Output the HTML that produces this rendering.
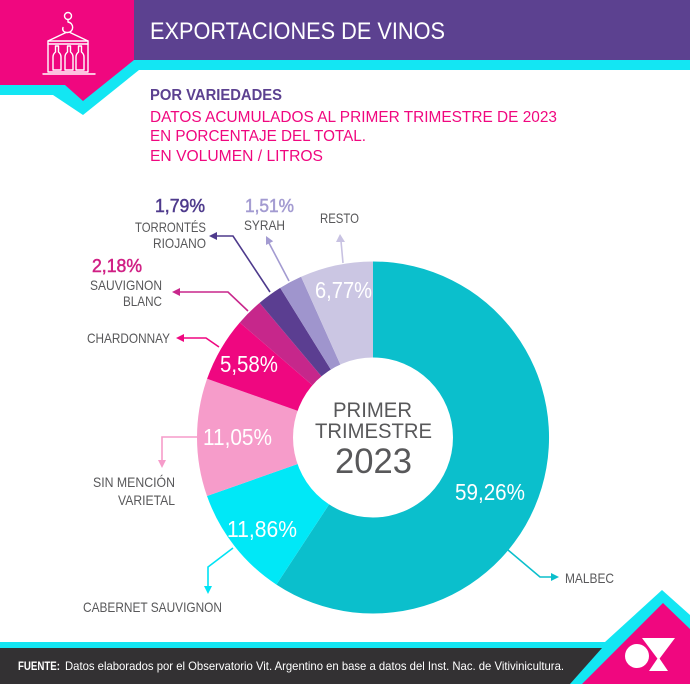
<!DOCTYPE html>
<html><head><meta charset="utf-8"><style>
html,body{margin:0;padding:0;background:#fff;}
svg{display:block;}
text{font-family:"Liberation Sans",sans-serif;}
</style></head><body>
<svg width="690" height="684" viewBox="0 0 690 684" xmlns="http://www.w3.org/2000/svg">
<rect width="690" height="684" fill="#ffffff"/>
<!-- header -->
<polygon points="0,0 690,0 690,70 139,70 83,115 53,95 0,95" fill="#13e6f3"/>
<rect x="133" y="0" width="557" height="60" fill="#5c4190"/>
<polygon points="0,0 134,0 134,60 83,101 65,85 0,85" fill="#f0077f"/>
<!-- icon -->
<g fill="none" stroke="#ffffff" stroke-width="1.4" stroke-linejoin="round" stroke-linecap="round">
<circle cx="68" cy="16" r="3.5"/>
<path d="M68,19.5 L68,22 C74,23 74.5,32 67.5,32.5 C63.5,32.5 62,30 63,27.5"/>
<path d="M66,32.5 L48,41 M70,32.5 L88,41"/>
<rect x="48" y="41" width="40" height="31"/>
<line x1="48" y1="44" x2="88" y2="44"/>
<line x1="43" y1="74" x2="95" y2="74"/>
<path d="M55.5,46 L55.5,52 Q53,54 53,57 L53,70 L61,70 L61,57 Q61,54 58.5,52 L58.5,46 Z"/>
<path d="M67.5,46 L67.5,52 Q65,54 65,57 L65,70 L73,70 L73,57 Q73,54 70.5,52 L70.5,46 Z"/>
<path d="M78.5,46 L78.5,52 Q76,54 76,57 L76,70 L84,70 L84,57 Q84,54 81.5,52 L81.5,46 Z"/>
</g>
<text x="150" y="39" font-size="24" fill="#ffffff" textLength="295" lengthAdjust="spacingAndGlyphs">EXPORTACIONES DE VINOS</text>
<text x="150" y="100" font-size="15.5" font-weight="bold" fill="#5c4190" textLength="132" lengthAdjust="spacingAndGlyphs">POR VARIEDADES</text>
<text x="150" y="122" font-size="15.5" fill="#f0077f" textLength="407" lengthAdjust="spacingAndGlyphs">DATOS ACUMULADOS AL PRIMER TRIMESTRE DE 2023</text>
<text x="150" y="141" font-size="15.5" fill="#f0077f" textLength="216" lengthAdjust="spacingAndGlyphs">EN PORCENTAJE DEL TOTAL.</text>
<text x="150" y="161" font-size="15.5" fill="#f0077f" textLength="173" lengthAdjust="spacingAndGlyphs">EN VOLUMEN / LITROS</text>

<!-- pie -->
<path d="M373,437.5 L373,261.5 A176,176 0 1,1 276.4,584.6 Z" fill="#0bbfcc"/>
<path d="M373,437.5 L276.4,584.6 A176,176 0 0,1 207.0,496.0 Z" fill="#00e8f7"/>
<path d="M373,437.5 L207.0,496.0 A176,176 0 0,1 207.1,378.8 Z" fill="#f69cca"/>
<path d="M373,437.5 L207.1,378.8 A176,176 0 0,1 239.8,322.5 Z" fill="#ef0780"/>
<path d="M373,437.5 L239.8,322.5 A176,176 0 0,1 259.6,302.9 Z" fill="#c6278b"/>
<path d="M373,437.5 L259.6,302.9 A176,176 0 0,1 280.2,287.9 Z" fill="#5b3e91"/>
<path d="M373,437.5 L280.2,287.9 A176,176 0 0,1 301.1,276.8 Z" fill="#9f95cd"/>
<path d="M373,437.5 L301.1,276.8 A176,176 0 0,1 373,261.5 Z" fill="#cbc6e3"/>
<circle cx="373" cy="437.5" r="80" fill="#ffffff"/>

<text x="333" y="417" font-size="21" fill="#58585a" textLength="79" lengthAdjust="spacingAndGlyphs">PRIMER</text>
<text x="315" y="438" font-size="21" fill="#58585a" textLength="117" lengthAdjust="spacingAndGlyphs">TRIMESTRE</text>
<text x="335" y="473" font-size="35" fill="#58585a" textLength="77" lengthAdjust="spacingAndGlyphs">2023</text>

<g fill="#ffffff" font-size="23">
<text x="455" y="500" textLength="70" lengthAdjust="spacingAndGlyphs">59,26%</text>
<text x="227" y="537" textLength="70" lengthAdjust="spacingAndGlyphs">11,86%</text>
<text x="203" y="445" textLength="69" lengthAdjust="spacingAndGlyphs">11,05%</text>
<text x="220" y="372" textLength="58" lengthAdjust="spacingAndGlyphs">5,58%</text>
<text x="315" y="298" textLength="57" lengthAdjust="spacingAndGlyphs">6,77%</text>
</g>

<!-- leaders -->
<g fill="none" stroke-width="1.6">
<polyline points="270,292 233,236 215,236" stroke="#4e3a8c"/>
<polyline points="289,281 269,243" stroke="#a39bd1"/>
<polyline points="343,263 341,241" stroke="#c8c2e2"/>
<polyline points="248,311 228,292 179,292" stroke="#c8278c"/>
<polyline points="219,347 206,338 183,338" stroke="#ef0780"/>
<polyline points="197,437 162,437 162,461" stroke="#f69cca"/>
<polyline points="233,548 208,567 208,587" stroke="#00e3f4"/>
<polyline points="508,550 540,577 552,577" stroke="#0bbfcc"/>
</g>
<polygon points="209,236 217,232 217,240" fill="#4e3a8c"/>
<polygon points="266,236 273.2,241.3 266,245" fill="#a39bd1"/>
<polygon points="340,234 336,242 345,242" fill="#c8c2e2"/>
<polygon points="172,292 180,288 180,296" fill="#c8278c"/>
<polygon points="176,338 184,334 184,342" fill="#ef0780"/>
<polygon points="162,468 158,460 166,460" fill="#f69cca"/>
<polygon points="208,594 204,586 212,586" fill="#00e3f4"/>
<polygon points="559,577 551,573 551,581" fill="#0bbfcc"/>

<!-- outer labels -->
<g font-size="18" stroke-width="0.5">
<text x="155" y="212" fill="#4e3a8c" stroke="#4e3a8c" textLength="50" lengthAdjust="spacingAndGlyphs">1,79%</text>
<text x="245" y="212" fill="#a39bd1" stroke="#a39bd1" textLength="49" lengthAdjust="spacingAndGlyphs">1,51%</text>
<text x="92" y="272" fill="#d01f84" stroke="#d01f84" textLength="50" lengthAdjust="spacingAndGlyphs">2,18%</text>
</g>
<g font-size="14" fill="#58585a">
<text x="135" y="232" textLength="71" lengthAdjust="spacingAndGlyphs">TORRONTÉS</text>
<text x="153" y="248" textLength="53" lengthAdjust="spacingAndGlyphs">RIOJANO</text>
<text x="244" y="230" textLength="41" lengthAdjust="spacingAndGlyphs">SYRAH</text>
<text x="320" y="223" textLength="39" lengthAdjust="spacingAndGlyphs">RESTO</text>
<text x="90" y="290" textLength="72" lengthAdjust="spacingAndGlyphs">SAUVIGNON</text>
<text x="123" y="306" textLength="39" lengthAdjust="spacingAndGlyphs">BLANC</text>
<text x="87" y="343" textLength="83" lengthAdjust="spacingAndGlyphs">CHARDONNAY</text>
<text x="93" y="487" textLength="82" lengthAdjust="spacingAndGlyphs">SIN MENCIÓN</text>
<text x="118" y="505" textLength="57" lengthAdjust="spacingAndGlyphs">VARIETAL</text>
<text x="83" y="612" textLength="139" lengthAdjust="spacingAndGlyphs">CABERNET SAUVIGNON</text>
<text x="565" y="583" textLength="49" lengthAdjust="spacingAndGlyphs">MALBEC</text>
</g>

<!-- footer -->
<polygon points="0,642 605,642 662,590 690,615 690,684 0,684" fill="#13e6f3"/>
<polygon points="0,648 602,648 570,684 0,684" fill="#333133"/>
<polygon points="663,603 690,629 690,684 582,684" fill="#f0077f"/>
<circle cx="637" cy="656" r="12" fill="#ffffff"/>
<polygon points="642,638 675,638 658.5,660" fill="#ffffff"/>
<polygon points="658.5,657 649,671 668,671" fill="#ffffff"/>
<text x="18" y="670" font-size="12" font-weight="bold" fill="#ffffff" textLength="42" lengthAdjust="spacingAndGlyphs">FUENTE:</text>
<text x="65" y="670" font-size="12" fill="#ffffff" textLength="499" lengthAdjust="spacingAndGlyphs">Datos elaborados por el Observatorio Vit. Argentino en base a datos del Inst. Nac. de Vitivinicultura.</text>
</svg>
</body></html>
